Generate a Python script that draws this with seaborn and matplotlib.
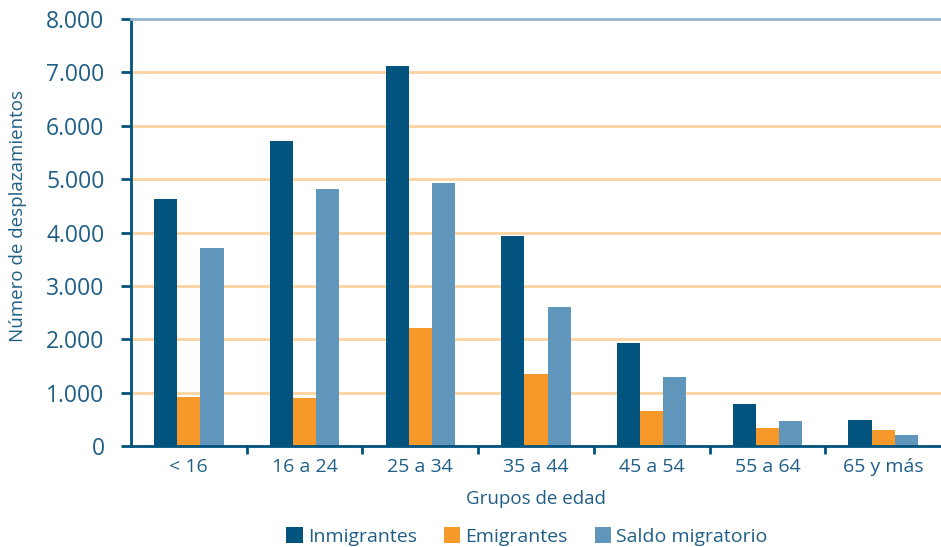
import matplotlib
matplotlib.use("Agg")
import matplotlib.pyplot as plt
import seaborn as sns
import pandas as pd
from matplotlib.ticker import FuncFormatter, FixedLocator
from matplotlib.patches import Patch

grupos = ["< 16", "16 a 24", "25 a 34", "35 a 44", "45 a 54", "55 a 64", "65 y más"]
inmigrantes = [4630, 5710, 7120, 3930, 1930, 790, 490]
emigrantes = [920, 900, 2210, 1350, 660, 340, 300]
saldo = [3710, 4810, 4920, 2600, 1290, 470, 210]
series = ["Inmigrantes", "Emigrantes", "Saldo migratorio"]
colores = ["#02547f", "#f7992a", "#6096bb"]

rows = []
for name, vals in zip(series, [inmigrantes, emigrantes, saldo]):
    for g, v in zip(grupos, vals):
        rows.append({"Grupo": g, "Serie": name, "Valor": v})
df = pd.DataFrame(rows)

sns.set_style("white")
plt.rcParams["font.family"] = ["Open Sans", "DejaVu Sans"]
text_color = "#1f5f86"
dark = "#02527e"

fig = plt.figure(figsize=(9.41, 5.47), dpi=100)
ax = fig.add_axes([131/941, 1-446/547, 1-131/941, (446-19)/547])

sns.barplot(data=df, x="Grupo", y="Valor", hue="Serie", order=grupos,
            hue_order=series, palette=colores, width=0.6, gap=0,
            saturation=1, ax=ax, legend=False, edgecolor="none", linewidth=0)

ax.set_ylim(0, 8000)
ax.set_xlim(-0.5, len(grupos) - 0.5)
ax.set_yticks(range(0, 8001, 1000))
ax.yaxis.set_major_formatter(FuncFormatter(lambda v, p: f"{int(v):,}".replace(",", ".")))
ax.yaxis.grid(True, color="#fdd3a0", linewidth=2)
ax.set_axisbelow(True)

ax.spines["right"].set_visible(False)
ax.spines["top"].set_color("#94b4cf")
ax.spines["top"].set_linewidth(2)
for s in ["left", "bottom"]:
    ax.spines[s].set_color(dark)
    ax.spines[s].set_linewidth(2)

ax.tick_params(axis="y", which="major", length=7, width=2, color=dark,
               labelsize=16.5, labelcolor=text_color, pad=12, left=True)
ax.tick_params(axis="x", which="major", length=0, labelsize=14,
               labelcolor=text_color, pad=9)
ax.xaxis.set_minor_locator(FixedLocator([i + 0.5 for i in range(len(grupos) - 1)]))
ax.tick_params(axis="x", which="minor", length=6, width=2, color=dark, bottom=True)

ax.set_xlabel("Grupos de edad", fontsize=13.5, color=text_color, labelpad=10)
ylab = ax.set_ylabel("Número de desplazamientos", fontsize=13.5, color=text_color,
                     va="center", ha="center")
ax.yaxis.set_label_coords(18/941, 1 - 216/547, transform=fig.transFigure)

handles = [Patch(facecolor=c, edgecolor="none") for c in colores]
fig.legend(handles, series, loc="lower center", bbox_to_anchor=(0.56, -0.03),
           ncol=3, frameon=False, fontsize=14, labelcolor=text_color,
           handlelength=0.85, handleheight=0.85, handletextpad=0.25, columnspacing=1.4)

fig.savefig("out.png", dpi=100)
